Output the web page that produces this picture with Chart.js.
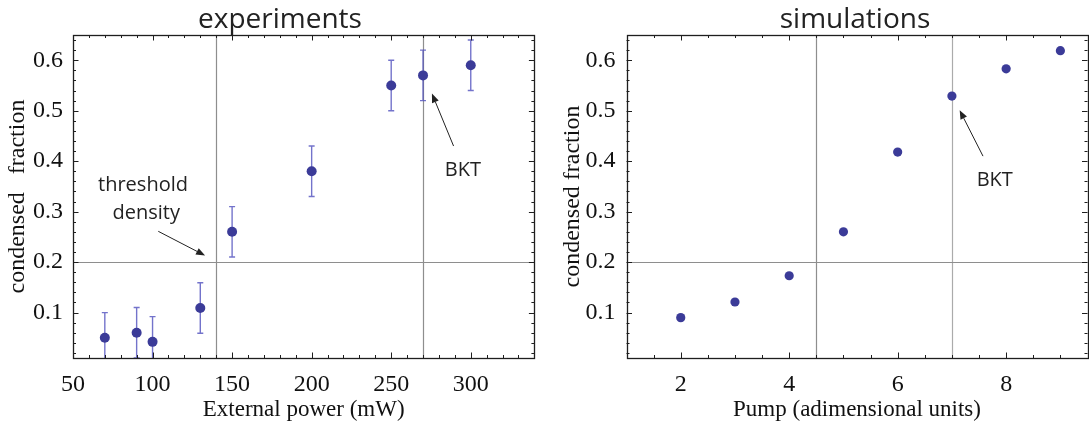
<!DOCTYPE html>
<html><head><meta charset="utf-8">
<script src="https://cdn.jsdelivr.net/npm/chart.js@4.4.1/dist/chart.umd.min.js"></script>
<style>
html,body{margin:0;padding:0;background:#fff;overflow:hidden;width:1089px;height:426px;}
#wrapL{position:absolute;left:0;top:0;width:560px;height:426px;}
#wrapR{position:absolute;left:545px;top:0;width:620px;height:426px;}
</style></head><body>
<div id="wrapL"><canvas id="cL" width="560" height="426"></canvas></div>
<div id="wrapR"><canvas id="cR" width="620" height="426"></canvas></div>
<script>
// ---- data ----
const expPower    = [70, 90, 100, 130, 150, 200, 250, 270, 300];
const expFraction = [0.05, 0.06, 0.042, 0.109, 0.26, 0.38, 0.55, 0.57, 0.59];
const expError    = [0.05, 0.05, 0.05, 0.05, 0.05, 0.05, 0.05, 0.05, 0.05];
const simPump     = [2, 3, 4, 5, 6, 7, 8, 9];
const simFraction = [0.09, 0.121, 0.173, 0.26, 0.418, 0.529, 0.583, 0.619];
const expXTicks   = [50, 100, 150, 200, 250, 300];
const simXTicks   = [2, 4, 6, 8];
const yTicks      = [0.1, 0.2, 0.3, 0.4, 0.5, 0.6];
const expRefX     = [140, 270];
const simRefX     = [4.5, 7];
const refY        = [0.2];

const POINT = '#3b3b98';
const ERR = 'rgba(80,80,190,0.8)';
const SERIF = 'Liberation Serif';
const SANS = 'Open Sans';

function deco(cfg){
  return {
    id: 'deco' + cfg.name,
    beforeDatasetsDraw(chart){
      const {ctx, chartArea:a, scales:{x, y}} = chart;
      ctx.save();
      ctx.beginPath(); ctx.rect(a.left, a.top, a.right - a.left, a.bottom - a.top); ctx.clip();
      ctx.lineWidth = 1.2;
      cfg.refX.forEach((v, i) => {
        const px = Math.round(x.getPixelForValue(v)) + 0.5;
        ctx.strokeStyle = cfg.refColors[i];
        ctx.beginPath(); ctx.moveTo(px, a.top); ctx.lineTo(px, a.bottom); ctx.stroke();
      });
      refY.forEach(v => {
        const py = Math.round(y.getPixelForValue(v)) + 0.5;
        ctx.strokeStyle = '#8e8e8e';
        ctx.beginPath(); ctx.moveTo(a.left, py); ctx.lineTo(a.right, py); ctx.stroke();
      });
      if (cfg.err) {
        ctx.strokeStyle = ERR; ctx.lineWidth = 1.4;
        cfg.xs.forEach((xv, i) => {
          const px = x.getPixelForValue(xv);
          const lo = y.getPixelForValue(cfg.ys[i] - cfg.err[i]);
          const hi = y.getPixelForValue(cfg.ys[i] + cfg.err[i]);
          ctx.beginPath();
          ctx.moveTo(px, lo); ctx.lineTo(px, hi);
          ctx.moveTo(px - 3, hi); ctx.lineTo(px + 3, hi);
          ctx.moveTo(px - 3, lo); ctx.lineTo(px + 3, lo);
          ctx.stroke();
        });
      }
      ctx.restore();
    },
    afterDatasetsDraw(chart){
      const {ctx, chartArea:a, scales:{x, y}} = chart;
      ctx.save();
      ctx.strokeStyle = '#1e1e1e';
      ctx.lineWidth = 1;
      const MAJ = 5.5, MIN = 3;
      const steps = (min, max, st) => { const r = []; for (let k = Math.ceil(min / st - 1e-9); k * st <= max + 1e-9; k++) r.push(+(k * st).toFixed(6)); return r; };
      const xMinor = steps(x.min, x.max, cfg.xMinor);
      const yMinor = steps(y.min, y.max, 0.02);
      ctx.beginPath();
      xMinor.forEach(v => {
        const len = cfg.xTicks.some(t => Math.abs(t - v) < 1e-6) ? MAJ : MIN;
        const px = Math.round(x.getPixelForValue(v)) + 0.5;
        ctx.moveTo(px, a.bottom); ctx.lineTo(px, a.bottom - len);
        ctx.moveTo(px, a.top); ctx.lineTo(px, a.top + len);
      });
      yMinor.forEach(v => {
        const len = yTicks.some(t => Math.abs(t - v) < 1e-6) ? MAJ : MIN;
        const py = Math.round(y.getPixelForValue(v)) + 0.5;
        ctx.moveTo(a.left, py); ctx.lineTo(a.left + len, py);
        ctx.moveTo(a.right, py); ctx.lineTo(a.right - len, py);
      });
      ctx.stroke();
      ctx.lineWidth = 1.3;
      ctx.strokeRect(Math.round(a.left) + 0.5, Math.round(a.top) + 0.5, Math.round(a.right) - Math.round(a.left), Math.round(a.bottom) - Math.round(a.top));
      ctx.fillStyle = '#222';
      ctx.font = '20px "' + SANS + '"';
      ctx.textAlign = 'center'; ctx.textBaseline = 'alphabetic';
      cfg.notes.forEach(n => ctx.fillText(n.text, x.getPixelForValue(n.x), y.getPixelForValue(n.y)));
      ctx.strokeStyle = '#222'; ctx.lineWidth = 1;
      cfg.arrows.forEach(ar => {
        const x0 = x.getPixelForValue(ar.from[0]), y0 = y.getPixelForValue(ar.from[1]);
        const x1 = x.getPixelForValue(ar.to[0]), y1 = y.getPixelForValue(ar.to[1]);
        const ang = Math.atan2(y1 - y0, x1 - x0);
        const hl = 9, hw = 3.6;
        const bx = x1 - hl * Math.cos(ang), by = y1 - hl * Math.sin(ang);
        ctx.beginPath(); ctx.moveTo(x0, y0); ctx.lineTo(bx, by); ctx.stroke();
        ctx.beginPath();
        ctx.moveTo(x1, y1);
        ctx.lineTo(bx + hw * Math.sin(ang), by - hw * Math.cos(ang));
        ctx.lineTo(bx - hw * Math.sin(ang), by + hw * Math.cos(ang));
        ctx.closePath(); ctx.fill();
      });
      ctx.restore();
    }
  };
}

function makeChart(id, cfg){
  return new Chart(document.getElementById(id), {
    type: 'scatter',
    data: { datasets: [{
      data: cfg.xs.map((v, i) => ({x: v, y: cfg.ys[i]})),
      pointRadius: cfg.r, pointHoverRadius: cfg.r,
      backgroundColor: POINT, pointBackgroundColor: POINT, borderWidth: 0, pointBorderWidth: 0
    }]},
    options: {
      responsive: false, animation: false, events: [],
      layout: { padding: 0 },
      plugins: {
        legend: { display: false }, tooltip: { enabled: false },
        title: { display: true, text: cfg.title, color: '#222',
          font: { family: SANS, size: 28, weight: 'normal', lineHeight: 1 },
          padding: { top: 6, bottom: 1 } }
      },
      scales: {
        x: {
          type: 'linear', position: 'bottom', min: cfg.xMin, max: cfg.xMax,
          grid: { display: false }, border: { display: false },
          afterBuildTicks: s => { s.ticks = cfg.xTicks.map(v => ({value: v})); },
          ticks: { font: { family: SERIF, size: 24 }, color: '#111', padding: 4, maxRotation: 0, autoSkip: false,
                   callback: v => String(v) },
          title: { display: true, text: cfg.xTitle, color: '#111', font: { family: SERIF, size: 23 }, padding: { top: 0, bottom: 2 } },
          afterFit: s => { s.height = 68; }
        },
        y: {
          type: 'linear', position: 'left', min: 0.01, max: 0.65,
          grid: { display: false }, border: { display: false },
          afterBuildTicks: s => { s.ticks = yTicks.map(v => ({value: v})); },
          ticks: { font: { family: SERIF, size: 24 }, color: '#111', padding: cfg.yPad, autoSkip: false,
                   callback: v => v.toFixed(1) },
          title: { display: true, text: cfg.yTitle, color: '#111', font: { family: SERIF, size: 24 }, padding: { top: cfg.ytPad, bottom: 0 } },
          afterFit: s => { s.width = cfg.yw; }
        },
        yR: {
          type: 'linear', position: 'right', min: 0.01, max: 0.65, display: true,
          grid: { display: false }, border: { display: false }, ticks: { display: false },
          afterFit: s => { s.width = cfg.rw; }
        }
      }
    },
    plugins: [deco(cfg)]
  });
}

makeChart('cL', {
  name: 'L', title: 'experiments', xTitle: 'External power (mW)', yTitle: 'condensed   fraction',
  xs: expPower, ys: expFraction, err: expError, r: 5,
  xMin: 50, xMax: 340, xTicks: expXTicks, xMinor: 10,
  refX: expRefX, refColors: ['#8e8e8e', '#8e8e8e'],
  yw: 73, rw: 25.6, yPad: 2, ytPad: 3,
  notes: [ {text: 'threshold', x: 94, y: 0.34}, {text: 'density', x: 96, y: 0.285}, {text: 'BKT', x: 295, y: 0.371} ],
  arrows: [ {from: [103.6, 0.261], to: [133, 0.213]}, {from: [289.2, 0.43], to: [275.6, 0.534]} ]
});

makeChart('cR', {
  name: 'R', title: 'simulations', xTitle: 'Pump (adimensional units)', yTitle: 'condensed fraction',
  xs: simPump, ys: simFraction, err: null, r: 4.6,
  xMin: 1, xMax: 9.5, xTicks: simXTicks, xMinor: 0.5,
  refX: simRefX, refColors: ['#8e8e8e', '#ababab'],
  yw: 81.5, rw: 77.5, yPad: 3, ytPad: 13,
  notes: [ {text: 'BKT', x: 7.79, y: 0.351} ],
  arrows: [ {from: [7.573, 0.41], to: [7.143, 0.501]} ]
});
</script>
</body></html>
